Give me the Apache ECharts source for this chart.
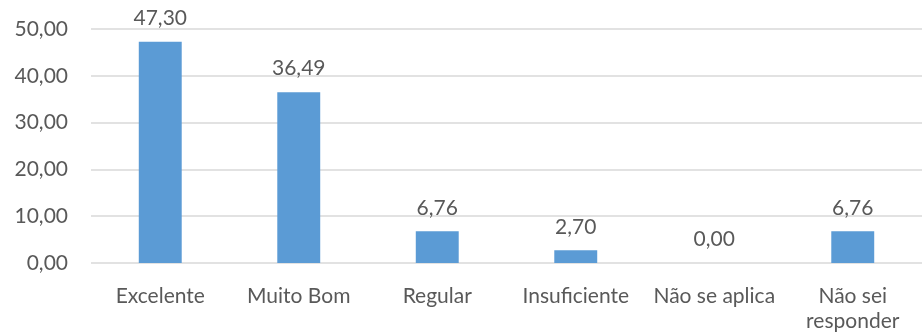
<!DOCTYPE html>
<html>
<head>
<meta charset="utf-8">
<script src="https://cdn.jsdelivr.net/npm/echarts@6/dist/echarts.min.js"></script>
<style>html,body{margin:0;padding:0;background:#fff}#c{width:922px;height:335px}</style>
</head>
<body>
<div id="c"></div>
<script>
var categories = ['Excelente', 'Muito Bom', 'Regular', 'Insuficiente', 'Não se aplica', 'Não sei\nresponder'];
var values = [47.30, 36.49, 6.76, 2.70, 0.00, 6.76];
var yMin = 0, yMax = 50, yStep = 10;

function fmt(v) { return v.toFixed(2).replace('.', ','); }

var chart = echarts.init(document.getElementById('c'), null, {renderer: 'canvas'});
var textColor = '#595959';
var fontFam = 'Lato, "Liberation Sans", sans-serif';
chart.setOption({
  animation: false,
  grid: {left: 91, right: 0, top: 29, bottom: 72, containLabel: false},
  xAxis: {
    type: 'category',
    data: categories,
    axisLine: {show: false},
    axisTick: {show: false},
    axisLabel: {color: textColor, fontSize: 21, fontFamily: fontFam, margin: 21, lineHeight: 25, interval: 0}
  },
  yAxis: {
    type: 'value',
    min: yMin, max: yMax, interval: yStep,
    axisLine: {show: false},
    axisTick: {show: false},
    splitLine: {lineStyle: {color: '#d9d9d9', width: 1.5}},
    axisLabel: {color: textColor, fontSize: 21, fontFamily: fontFam, margin: 23, formatter: fmt}
  },
  series: [{
    type: 'bar',
    data: values,
    barWidth: '31%',
    itemStyle: {color: '#5b9bd5'},
    label: {show: true, position: 'top', distance: 13, color: textColor, fontSize: 21, fontFamily: fontFam, formatter: function(p){return fmt(p.value);}}
  }]
});
</script>
</body>
</html>
